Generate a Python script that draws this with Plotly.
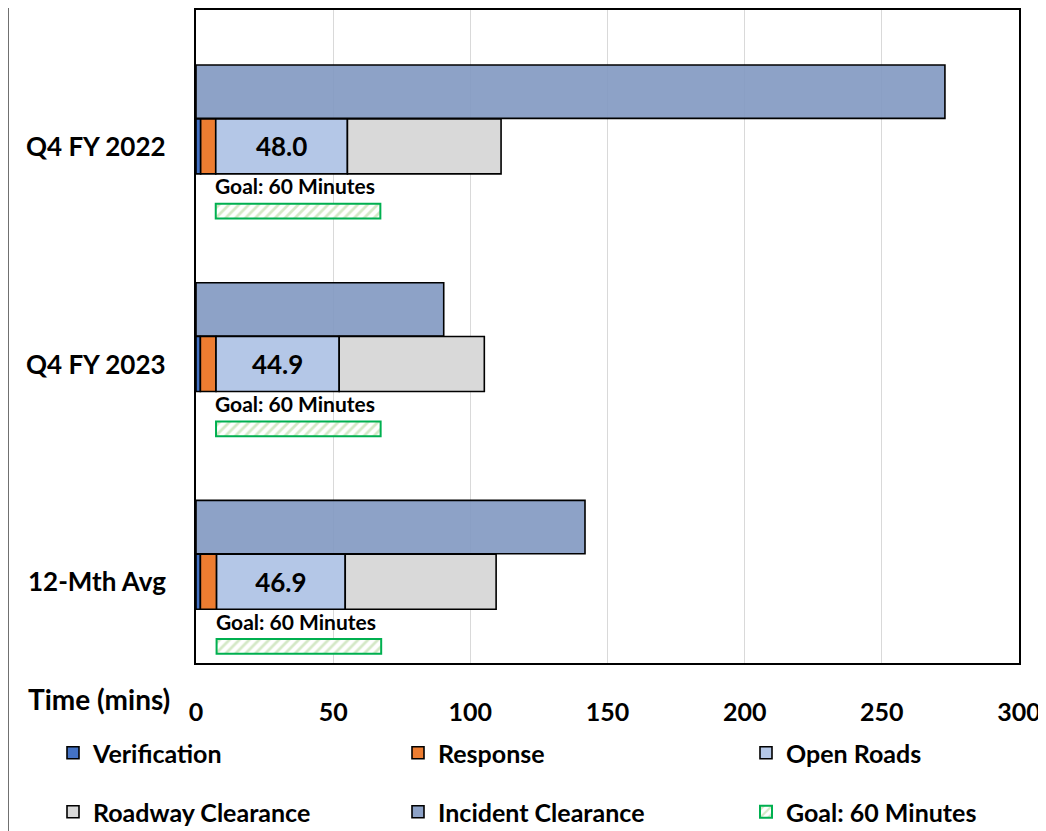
import plotly.graph_objects as go

categories = ["Q4 FY 2022", "Q4 FY 2023", "12-Mth Avg"]
verification = [1.7, 1.6, 1.6]
response = [5.5, 5.7, 5.9]
open_roads = [48.0, 44.9, 46.9]
roadway_clearance = [56.0, 52.9, 55.0]
incident_clearance = [273.0, 90.3, 141.8]
goal = [60, 60, 60]
x_ticks = [0, 50, 100, 150, 200, 250, 300]

FONT = "Lato"
EDGE = dict(color="black", width=1.6)
W, H = 1038, 823

# cumulative bases for the stacked segments
base_resp = [v for v in verification]
base_open = [v + r for v, r in zip(verification, response)]
base_road = [b + o for b, o in zip(base_open, open_roads)]

fig = go.Figure()

fig.add_trace(go.Bar(
    name="Incident Clearance", y=categories, x=incident_clearance, orientation="h",
    offset=-0.247, width=0.245,
    marker=dict(color="rgba(129,152,193,0.9)", line=EDGE),
    legend="legend5",
))
fig.add_trace(go.Bar(
    name="Verification", y=categories, x=verification, orientation="h",
    offset=0.0, width=0.253,
    marker=dict(color="#4472C4", line=EDGE), legend="legend",
))
fig.add_trace(go.Bar(
    name="Response", y=categories, x=response, base=base_resp, orientation="h",
    offset=0.0, width=0.253,
    marker=dict(color="#ED7D31", line=EDGE), legend="legend2",
))
fig.add_trace(go.Bar(
    name="Open Roads", y=categories, x=open_roads, base=base_open, orientation="h",
    offset=0.0, width=0.253,
    marker=dict(color="#B4C7E7", line=EDGE), legend="legend3",
    texttemplate="%{x:.1f}", textposition="inside", insidetextanchor="middle",
    textangle=0, constraintext="none",
    textfont=dict(family=FONT, size=26, color="black", weight="bold"),
))
fig.add_trace(go.Bar(
    name="Roadway Clearance", y=categories, x=roadway_clearance, base=base_road,
    orientation="h", offset=0.0, width=0.253,
    marker=dict(color="#D9D9D9", line=EDGE), legend="legend4",
))
fig.add_trace(go.Bar(
    name="Goal: 60 Minutes", y=categories, x=goal, base=base_open, orientation="h",
    offset=0.39, width=0.068,
    marker=dict(color="white", line=dict(color="#00B050", width=2),
                pattern=dict(shape="/", fgcolor="#A9D18E", bgcolor="white",
                             size=7, solidity=0.4)),
    legend="legend6",
))

annotations = []
for c in categories:
    annotations.append(dict(
        x=0, xref="paper", y=c, yref="y", xanchor="right", yanchor="middle",
        xshift=-28, yshift=-27, showarrow=False, text=c,
        font=dict(family=FONT, size=26, color="black", weight="bold"),
    ))
for c, b in zip(categories, base_open):
    annotations.append(dict(
        x=b, xref="x", y=c, yref="y", xanchor="left", yanchor="middle",
        xshift=-3, yshift=-67, showarrow=False, text="Goal: 60 Minutes",
        font=dict(family=FONT, size=21, color="black", weight="bold"),
    ))
annotations.append(dict(
    x=0, xref="paper", y=0, yref="paper", xanchor="right", yanchor="middle",
    xshift=-24, yshift=-36, showarrow=False, text="Time (mins)",
    font=dict(family=FONT, size=28, color="black", weight="bold"),
))

legend_common = dict(
    orientation="h", xref="container", yref="container", xanchor="left",
    yanchor="middle",
    font=dict(family=FONT, size=25, color="black", weight="bold"),
    bgcolor="rgba(0,0,0,0)", itemclick=False,
)
col_x = [45 / W, 390 / W, 738 / W]
row_y = [1 - 745 / H, 1 - 804 / H]
legends = {}
names = ["legend", "legend2", "legend3", "legend4", "legend5", "legend6"]
for i, nm in enumerate(names):
    legends[nm] = dict(x=col_x[i % 3], y=row_y[i // 3], **legend_common)

fig.update_layout(
    width=W, height=H,
    margin=dict(l=188, r=27, t=2, b=168, autoexpand=False),
    paper_bgcolor="white", plot_bgcolor="white",
    barmode="overlay",
    font=dict(family=FONT, color="black"),
    showlegend=True,
    annotations=annotations,
    shapes=[dict(type="line", xref="paper", yref="paper",
                 x0=-188 / 823, x1=-188 / 823, y0=-0.3, y1=1.01,
                 line=dict(color="#404040", width=1.5))],
    **legends,
)

fig.update_xaxes(
    range=[0, 300], tickvals=x_ticks, showgrid=True, gridcolor="#D9D9D9", gridwidth=1,
    zeroline=False, showline=True, linecolor="black", linewidth=2, mirror=True,
    ticks="outside", ticklen=0, ticklabelstandoff=26,
    tickfont=dict(family=FONT, size=25, color="black", weight="bold"),
)
fig.update_yaxes(
    type="category", categoryorder="array", categoryarray=categories,
    range=[2.5, -0.5], showticklabels=False, showgrid=False, zeroline=False,
    showline=True, linecolor="black", linewidth=2, mirror=True,
)

fig.write_html("out.html")
